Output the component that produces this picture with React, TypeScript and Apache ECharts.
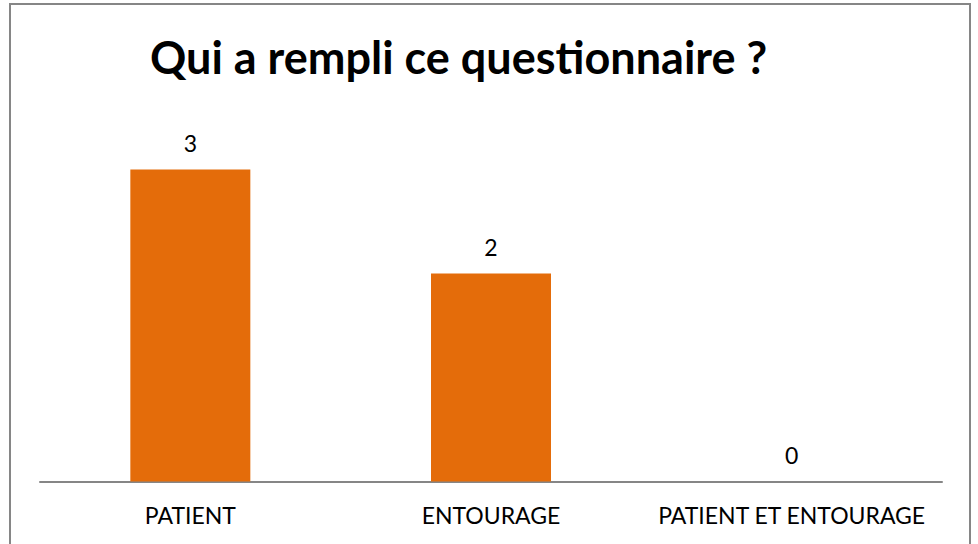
import React, { useEffect, useRef } from "react";
import * as echarts from "echarts";

const categories = ["PATIENT", "ENTOURAGE", "PATIENT ET ENTOURAGE"];
const values = [3, 2, 0];
const titleText = "Qui a rempli ce questionnaire ?";

export default function App() {
  const ref = useRef<HTMLDivElement>(null);
  useEffect(() => {
    const chart = echarts.init(ref.current!, null, { renderer: "svg" });
    chart.setOption({
      animation: false,
      backgroundColor: "#ffffff",
      title: {
        text: titleText,
        left: 145,
        top: 29,
        textStyle: {
          fontFamily: "Lato",
          fontWeight: "bold",
          fontSize: 45,
          color: "#000000",
        },
      },
      grid: { left: 40, right: 36, top: 117.5, bottom: 62.5 },
      xAxis: {
        type: "category",
        data: categories,
        axisLine: { lineStyle: { color: "#868686", width: 2 } },
        axisTick: { show: false },
        axisLabel: {
          interval: 0,
          color: "#000000",
          fontFamily: "Lato",
          fontSize: 23,
          margin: 22,
        },
      },
      yAxis: {
        type: "value",
        min: 0,
        max: 3.5,
        show: false,
      },
      series: [
        {
          type: "bar",
          data: values,
          barWidth: 120,
          itemStyle: { color: "#E46C0A" },
          label: {
            show: true,
            position: "top",
            distance: 15,
            color: "#000000",
            fontFamily: "Lato",
            fontSize: 23,
          },
        },
      ],
      graphic: [
        {
          type: "rect",
          shape: { x: 10, y: 4, width: 960, height: 548 },
          style: { fill: "none", stroke: "#868686", lineWidth: 2 },
          silent: true,
        },
      ],
    });
    return () => chart.dispose();
  }, []);
  return (
    <div
      ref={ref}
      style={{ position: "fixed", left: 0, top: 0, width: 978, height: 544 }}
    />
  );
}
